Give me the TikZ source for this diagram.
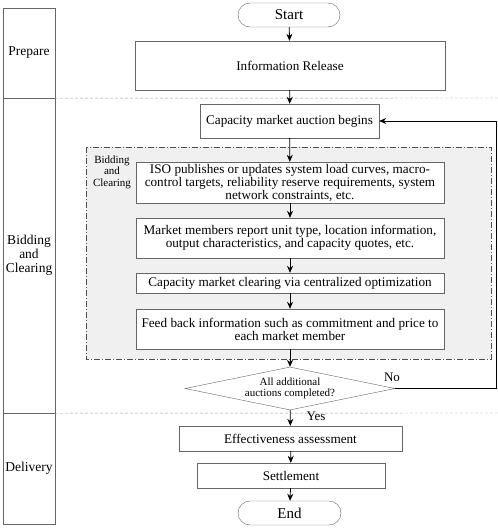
\documentclass[tikz,border=0pt]{standalone}
\usepackage{fontspec}
\setmainfont{Liberation Serif}
\usetikzlibrary{arrows.meta,shapes.geometric,shapes.misc}

\begin{document}
\begin{tikzpicture}[x=1pt,y=-1pt]
        \tikzstyle{every node}+=[inner sep=0pt]
        \tikzstyle{box}=[draw=black!60, fill=white, rectangle, font=\fontsize{13.2}{11}\selectfont, align=center]
        \tikzstyle{term}=[draw=black!60, fill=white, rounded rectangle, font=\fontsize{15}{15}\selectfont]
        \tikzstyle{lane}=[draw=black!60, rectangle, minimum width=52pt, font=\fontsize{13.5}{14}\selectfont, align=center]
        \tikzstyle{arr}=[-{Stealth[length=7pt,width=6pt]}, black, thick]
        \useasboundingbox (0,0) rectangle (498,528);
        % lanes
        \node [lane, minimum height=90pt] (prepare) at (29,53) {Prepare};
        \node [lane, minimum height=315pt] (bidding) at (29,255.5) {Bidding\\and\\Clearing};
        \node [lane, minimum height=111pt] (delivery) at (29,468.5) {Delivery};
        \draw [black!40, densely dashed] (prepare.south east) -- (498,98);
        \draw [black!40, densely dashed] (bidding.south east) -- (498,413);
        % inner group
        \draw [black!70, fill=black!6, dash pattern=on 6pt off 2pt on 1pt off 2pt] (86,147) rectangle (491,359);
        \node [font=\fontsize{11}{11.5}\selectfont, align=center] (group) at (112,172) {Bidding\\and\\Clearing};
        % flow
        \node [term, minimum width=102pt, minimum height=24pt] (start) at (289,15) {Start};
        \node [box, minimum width=310pt, minimum height=49pt] (info) at (290,65.5) {Information Release};
        \node [box, minimum width=179pt, minimum height=34pt] (begin) at (289.5,121) {Capacity market auction begins};
        \node [box, minimum width=308pt, minimum height=41pt] (iso) at (290,182.5) {ISO publishes or updates system load curves, macro-\\control targets, reliability reserve requirements, system\\network constraints, etc.};
        \node [box, minimum width=308pt, minimum height=40pt] (report) at (290,238) {Market members report unit type, location information,\\output characteristics, and capacity quotes, etc.};
        \node [box, minimum width=308pt, minimum height=20pt] (clear) at (290,283) {Capacity market clearing via centralized optimization};
        \node [box, minimum width=308pt, minimum height=40pt] (feed) at (290,329) {Feed back information such as commitment and price to\\each market member};
        \node [draw=black!60, fill=white, diamond, aspect=4.9, minimum width=210pt, minimum height=43pt, font=\fontsize{11}{11.5}\selectfont, align=center] (done) at (290,388.5) {All additional\\auctions completed?};
        \node [box, minimum width=223pt, minimum height=25pt] (assess) at (290.5,438.5) {Effectiveness assessment};
        \node [box, minimum width=188pt, minimum height=25pt] (settle) at (291,475.5) {Settlement};
        \node [term, minimum width=103pt, minimum height=24pt] (end) at (289.5,513) {End};
        \coordinate (loop) at (496,388.5);
        \draw [arr] (start) -- (info);
        \draw [arr] (info) -- (begin);
        \draw [arr] (begin) -- (iso);
        \draw [arr] (iso) -- (report);
        \draw [arr] (report) -- (clear);
        \draw [arr] (clear) -- (feed);
        \draw [arr] (feed) -- (done);
        \draw [arr] (done) -- (assess);
        \draw [arr] (assess) -- (settle);
        \draw [arr] (settle) -- (end);
        \draw [arr] (done.east) -- (loop) |- (begin.east);
        \node [font=\fontsize{13}{13}\selectfont] (no) at (392,377) {No};
        \node [font=\fontsize{13}{13}\selectfont] (yes) at (316,416) {Yes};
\end{tikzpicture}
\end{document}
